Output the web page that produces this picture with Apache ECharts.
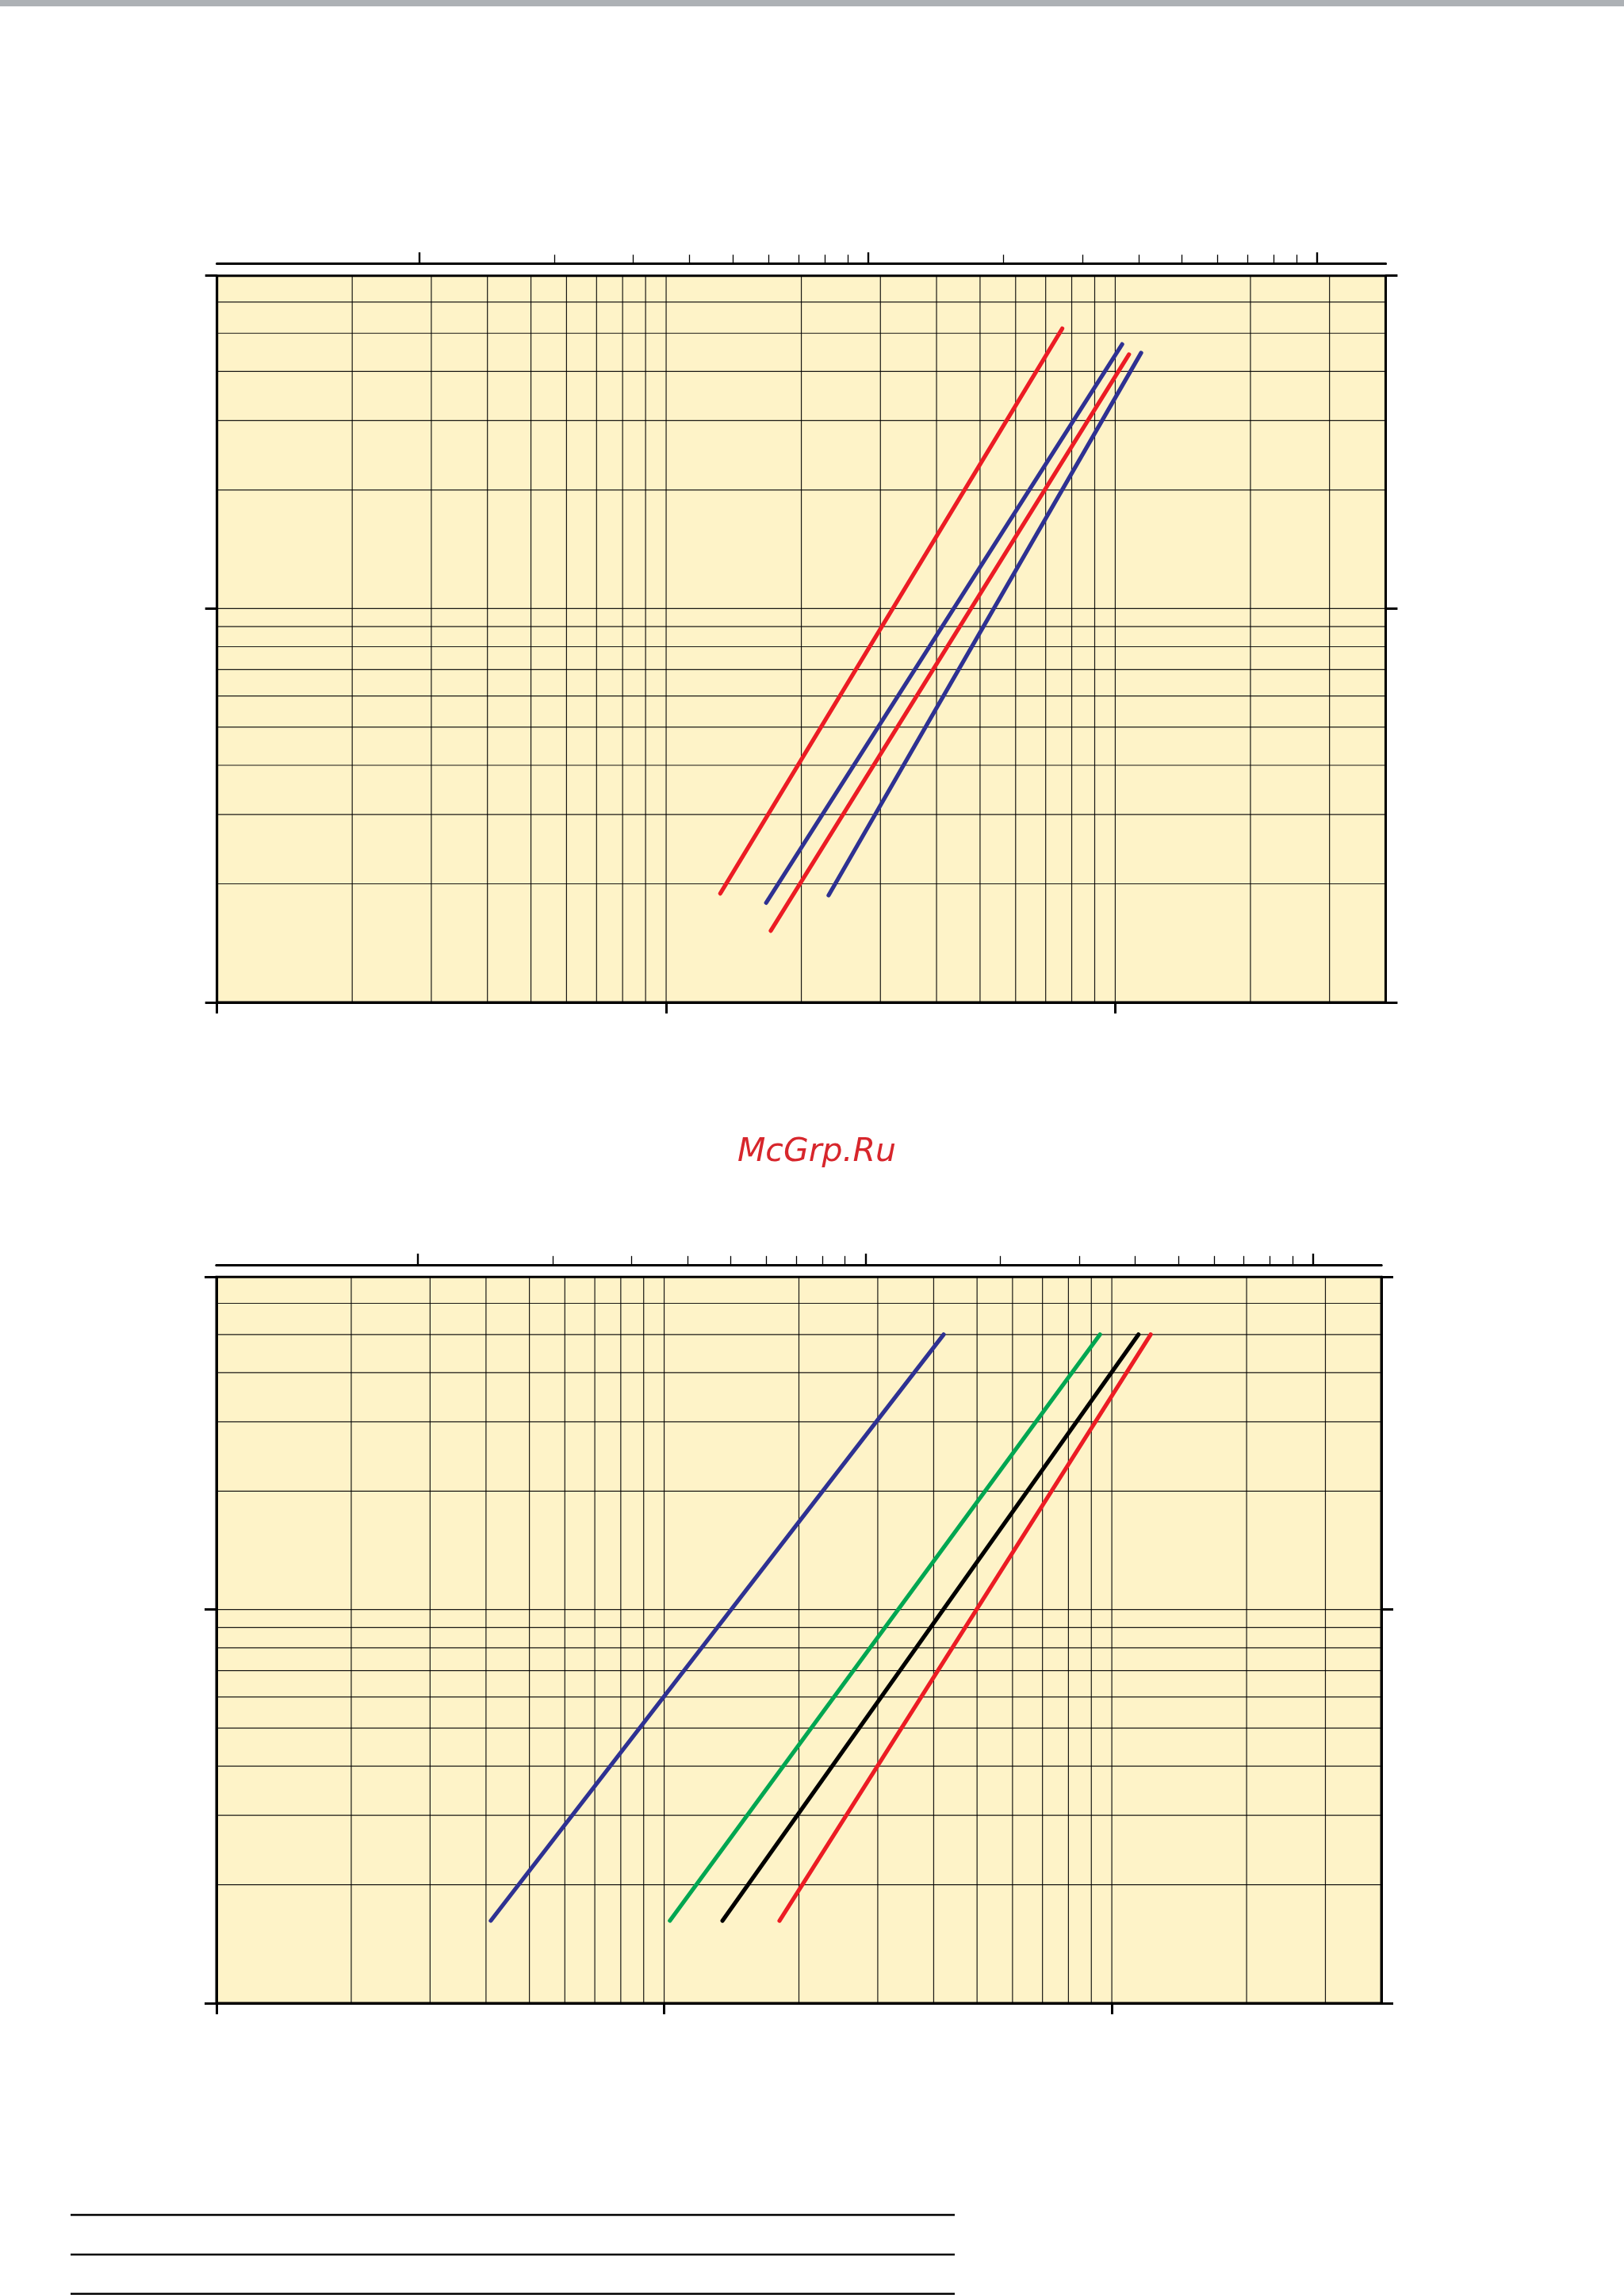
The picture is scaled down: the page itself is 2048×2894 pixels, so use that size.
<!DOCTYPE html>
<html><head><meta charset="utf-8">
<script src="https://cdn.jsdelivr.net/npm/echarts@6/dist/echarts.min.js"></script>
<style>html,body{margin:0;padding:0;background:#fff;}#c{width:2048px;height:2894px;}</style>
</head><body><div id="c"></div>
<script>
// ---- axis definitions (bottom: flow l/s, top: flow m3/h, vertical: pressure) ----
const flowRange = [0.1, 40];
const pressRange = [1, 70];
const flowMajorTicks = [0.1, 1, 10];
const pressMajorTicks = [1, 10, 70];
const topMajorTicks = [1, 10, 100];
const topMinorTicks = [2, 3, 4, 5, 6, 7, 8, 9, 20, 30, 40, 50, 60, 70, 80, 90];
const flowGridLines = [0.2, 0.3, 0.4, 0.5, 0.6, 0.7, 0.8, 0.9, 1, 2, 3, 4, 5, 6, 7, 8, 9, 10, 20, 30];
const pressGridLines = [2, 3, 4, 5, 6, 7, 8, 9, 10, 20, 30, 40, 50, 60];
const M3H_PER_LS = 3.55; // as drawn on the top scale

// ---- chart 1 curves (flow l/s, pressure) ----
const c1RedAFlow = [1.32, 7.62];   const c1RedAPress = [1.89, 51.4];
const c1BlueAFlow = [1.67, 10.36]; const c1BlueAPress = [1.79, 46.9];
const c1RedBFlow = [1.71, 10.73];  const c1RedBPress = [1.52, 44.2];
const c1BlueBFlow = [2.30, 11.42]; const c1BlueBPress = [1.87, 44.6];

// ---- chart 2 curves ----
const c2Press = [1.62, 50];
const c2BlueFlow = [0.41, 4.21];
const c2GreenFlow = [1.03, 9.41];
const c2BlackFlow = [1.35, 11.47];
const c2RedFlow = [1.81, 12.21];

const RED = '#ec1c24', BLUE = '#2e3192', GREEN = '#00a651', BLACK = '#000000';
const GRIDC = '#000000';

const grids = [
  {left: 273.7, top: 347.7, width: 1473.7, height: 916.3},
  {left: 273, top: 1610.3, width: 1469, height: 915.7}
];

const chartCurves = [
  [[c1RedAFlow, c1RedAPress, RED], [c1BlueAFlow, c1BlueAPress, BLUE], [c1RedBFlow, c1RedBPress, RED], [c1BlueBFlow, c1BlueBPress, BLUE]],
  [[c2BlueFlow, c2Press, BLUE], [c2GreenFlow, c2Press, GREEN], [c2BlackFlow, c2Press, BLACK], [c2RedFlow, c2Press, RED]]
];

const xAxes = [], yAxes = [], series = [], gridOpts = [];
grids.forEach((g, gi) => {
  gridOpts.push(Object.assign({show: true, backgroundColor: '#fef3c8', borderColor: '#000', borderWidth: 3, containLabel: false, outerBoundsMode: 'none'}, g));
  // bottom axis
  xAxes.push({type: 'log', logBase: 10, gridIndex: gi, position: 'bottom', min: flowRange[0], max: flowRange[1],
    axisLine: {show: true, lineStyle: {color: '#000', width: 3}},
    axisTick: {show: true, inside: false, length: 14, lineStyle: {color: '#000', width: 3}, customValues: flowMajorTicks},
    axisLabel: {show: false}, splitLine: {show: false}, minorTick: {show: false}, minorSplitLine: {show: false}});
  // top axis m3/h major ticks
  xAxes.push({type: 'log', logBase: 10, gridIndex: gi, position: 'top', offset: 15.5,
    min: flowRange[0] * M3H_PER_LS, max: flowRange[1] * M3H_PER_LS,
    axisLine: {show: true, lineStyle: {color: '#000', width: 3}},
    axisTick: {show: true, inside: false, length: 14, lineStyle: {color: '#000', width: 2.4}, customValues: topMajorTicks},
    axisLabel: {show: false}, splitLine: {show: false}});
  // top axis m3/h minor ticks
  xAxes.push({type: 'log', logBase: 10, gridIndex: gi, position: 'top', offset: 15.5,
    min: flowRange[0] * M3H_PER_LS, max: flowRange[1] * M3H_PER_LS,
    axisLine: {show: true, lineStyle: {color: '#000', width: 3}},
    axisTick: {show: true, inside: false, length: 11, lineStyle: {color: '#000', width: 1.3}, customValues: topMinorTicks},
    axisLabel: {show: false}, splitLine: {show: false}});
  ['left', 'right'].forEach(pos => {
    yAxes.push({type: 'log', logBase: 10, gridIndex: gi, position: pos, min: pressRange[0], max: pressRange[1],
      axisLine: {show: true, lineStyle: {color: '#000', width: 3}},
      axisTick: {show: true, inside: false, length: 15, lineStyle: {color: '#000', width: 3}, customValues: pressMajorTicks},
      axisLabel: {show: false}, splitLine: {show: false}});
  });
  const xi = gi * 3, yi = gi * 2;
  flowGridLines.forEach(v => series.push({type: 'line', xAxisIndex: xi, yAxisIndex: yi, silent: true, animation: false, z: 1,
    symbol: 'none', lineStyle: {color: GRIDC, width: 1.2, opacity: 0.9}, data: [[v, pressRange[0]], [v, pressRange[1]]]}));
  pressGridLines.forEach(v => series.push({type: 'line', xAxisIndex: xi, yAxisIndex: yi, silent: true, animation: false, z: 1,
    symbol: 'none', lineStyle: {color: GRIDC, width: 1.2, opacity: 0.9}, data: [[flowRange[0], v], [flowRange[1], v]]}));
  chartCurves[gi].forEach(([fq, fp, col]) => series.push({type: 'line', xAxisIndex: xi, yAxisIndex: yi, silent: true, animation: false, z: 3,
    symbol: 'none', lineStyle: {color: col, width: 5.2, cap: 'round'}, data: fq.map((q, i) => [q, fp[i]])}));
});

const chart = echarts.init(document.getElementById('c'), null, {renderer: 'canvas'});
chart.setOption({
  backgroundColor: '#ffffff',
  animation: false,
  grid: gridOpts,
  xAxis: xAxes,
  yAxis: yAxes,
  series: series,
  graphic: [
    {type: 'rect', shape: {x: 0, y: 0, width: 2048, height: 8}, style: {fill: '#adb1b5'}, silent: true},
    {type: 'text', x: 1030, y: 1453, silent: true, style: {text: 'McGrp.Ru', fill: '#d7262c', font: 'italic 41px "DejaVu Sans"', textAlign: 'center', textVerticalAlign: 'middle'}},
    {type: 'line', shape: {x1: 89, y1: 2793, x2: 1204, y2: 2793}, style: {stroke: '#000', lineWidth: 2.5}, silent: true},
    {type: 'line', shape: {x1: 89, y1: 2843, x2: 1204, y2: 2843}, style: {stroke: '#000', lineWidth: 2.5}, silent: true},
    {type: 'line', shape: {x1: 89, y1: 2892.5, x2: 1204, y2: 2892.5}, style: {stroke: '#000', lineWidth: 2.5}, silent: true}
  ]
});
</script></body></html>
